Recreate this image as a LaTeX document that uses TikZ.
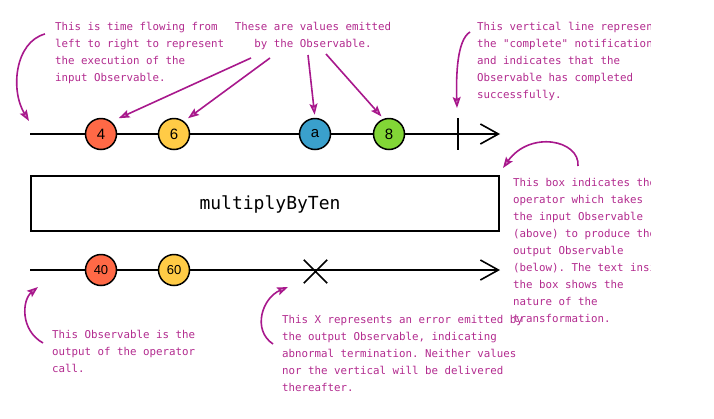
\documentclass[tikz,border=0pt]{standalone}
\usepackage{fontspec}
\setmonofont{DejaVu Sans Mono}
\setsansfont{Liberation Sans}
\usepackage{tikz}
\usetikzlibrary{arrows.meta}
\definecolor{notepink}{RGB}{178,42,142}
\definecolor{arrowpink}{RGB}{168,24,140}
\definecolor{valred}{RGB}{255,105,70}
\definecolor{valyellow}{RGB}{255,203,70}
\definecolor{valblue}{RGB}{58,160,204}
\definecolor{valgreen}{RGB}{130,214,54}

\begin{document}
\begin{tikzpicture}[x=1pt,y=-1pt,
	marble/.style={circle,draw=black,line width=1.5pt,minimum size=31pt,inner sep=0pt,font=\sffamily\fontsize{15}{15}\selectfont},
	note/.style={notepink,anchor=north west,align=left,inner sep=0pt,font=\ttfamily\fontsize{10.8}{17}\selectfont},
	hint/.style={arrowpink,line width=1.6pt,-{Stealth[length=11pt,width=8pt,inset=2pt,fill=arrowpink!55]}},
	timeline/.style={line width=1.6pt,-{Straight Barb[length=18pt,width=20pt]}}]
	\useasboundingbox (0,0) rectangle (714,418);

	%INPUT OBSERVABLE
	\coordinate (in start) at (30,134);
	\coordinate (in end) at (500,134);
	\draw[timeline] (in start) -- (in end);
	\node[marble,fill=valred] (v4) at (101,134) {4};
	\node[marble,fill=valyellow] (v6) at (174,134) {6};
	\node[marble,fill=valblue] (va) at (315,134) {a};
	\node[marble,fill=valgreen] (v8) at (389,134) {8};
	\coordinate (done top) at (458,118);
	\coordinate (done bot) at (458,150);
	\draw[line width=1.6pt] (done top) -- (done bot); %complete

	%OPERATOR
	\node[draw,line width=1.6pt,minimum width=468pt,minimum height=55pt] (op) at (265,203.5) {};
	\node[font=\ttfamily\fontsize{18}{18}\selectfont] (opname) at (270,204) {multiplyByTen};

	%OUTPUT OBSERVABLE
	\coordinate (out start) at (30,270);
	\coordinate (out end) at (500,270);
	\draw[timeline] (out start) -- (out end);
	\node[marble,fill=valred,font=\sffamily\fontsize{13}{13}\selectfont] (v40) at (101,270) {40};
	\node[marble,fill=valyellow,font=\sffamily\fontsize{13}{13}\selectfont] (v60) at (174,270) {60};
	\node[minimum size=23pt,inner sep=0pt] (err) at (315.5,271.5) {};
	\draw[line width=1.6pt] (err.north west) -- (err.south east) (err.north east) -- (err.south west); %error

	%NOTES
	\begin{scope}
	\clip (0,0) rectangle (650,418);
	\node[note] (time note) at (55,22) {This is time flowing from\\left to right to represent\\the execution of the\\input Observable.};
	\node[note,anchor=north,align=center] (emit note) at (313,22) {These are values emitted\\by the Observable.};
	\node[note] (done note) at (477,22) {This vertical line represents\\the "complete" notification\\and indicates that the\\Observable has completed\\successfully.};
	\node[note] (box note) at (513,178) {This box indicates the\\operator which takes\\the input Observable\\(above) to produce the\\output Observable\\(below). The text inside\\the box shows the\\nature of the\\transformation.};
	\node[note] (out note) at (52,330) {This Observable is the\\output of the operator\\call.};
	\node[note] (err note) at (282,315) {This X represents an error emitted by\\the output Observable, indicating\\abnormal termination. Neither values\\nor the vertical will be delivered\\thereafter.};
	\end{scope}

	%HINT ARROWS
	\coordinate (time tail) at (45,34);
	\coordinate (time head) at (29,121);
	\draw[hint] (time tail) .. controls (15,42) and (10,90) .. (time head);
	\coordinate (emit4) at (251,58);
	\coordinate (emit6) at (270,58);
	\coordinate (emita) at (308,55);
	\coordinate (emit8) at (326,54);
	\draw[hint,shorten >=8pt] (emit4) -- (v4.50);
	\draw[hint,shorten >=5pt] (emit6) -- (v6.52);
	\draw[hint,shorten >=3pt] (emita) -- (va.north);
	\draw[hint,shorten >=3pt] (emit8) -- (v8.110);
	\coordinate (done tail) at (470,32);
	\coordinate (done head) at (457,108);
	\draw[hint] (done tail) .. controls (457,40) and (456,75) .. (done head);
	\coordinate (box tail) at (578,166);
	\coordinate (box head) at (503,168);
	\draw[hint] (box tail) .. controls (580,140) and (530,130) .. (box head);
	\coordinate (out tail) at (43,343);
	\coordinate (out head) at (38,287);
	\draw[hint] (out tail) .. controls (20,330) and (22,300) .. (out head);
	\coordinate (err tail) at (273,344);
	\coordinate (err head) at (288,287);
	\draw[hint] (err tail) .. controls (252,330) and (262,298) .. (err head);
\end{tikzpicture}
\end{document}
